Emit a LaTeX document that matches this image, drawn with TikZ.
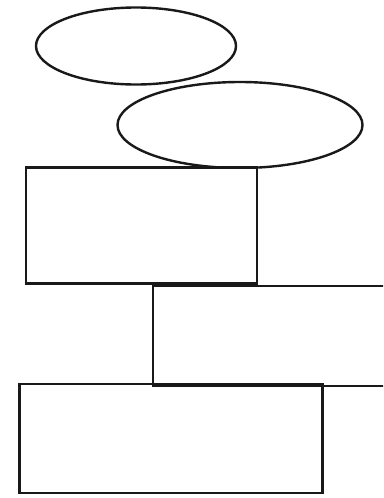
\documentclass[tikz,border=0pt]{standalone}
\usetikzlibrary{shapes.geometric}
\begin{document}
\begin{tikzpicture}[x=1pt,y=-1pt,
  shapeline/.style={draw=black!90,line width=2.4pt,inner sep=0pt,fill=none},
  oval/.style={shapeline,ellipse},
  box/.style={shapeline,rectangle}]
\useasboundingbox (0,0) rectangle (383,498);
\clip (0,0) rectangle (383,498);
\node[oval,minimum width=200pt,minimum height=77pt] (e1) at (136,46) {};
\node[oval,minimum width=245pt,minimum height=86pt] (e2) at (240,125) {};
\node[box,fill=white,minimum width=231pt,minimum height=116pt] (r1) at (141.5,225.5) {};
\node[box,minimum width=260pt,minimum height=100pt] (r2) at (283,336) {};
\node[box,minimum width=303pt,minimum height=109pt] (r3) at (171,438.5) {};
\end{tikzpicture}
\end{document}
